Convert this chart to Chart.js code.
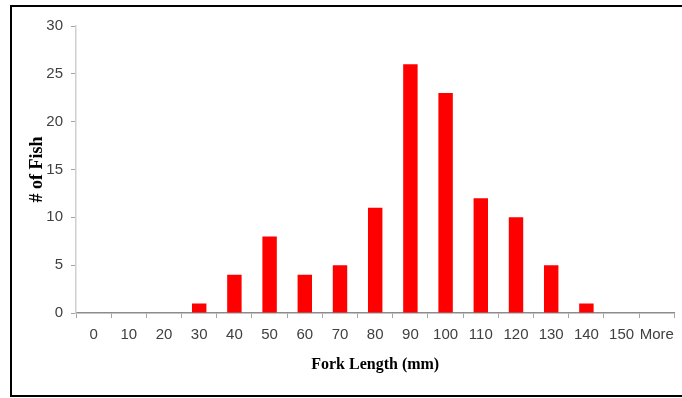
<!DOCTYPE html>
<html>
<head>
<meta charset="utf-8">
<script src="https://cdn.jsdelivr.net/npm/chart.js@4/dist/chart.umd.min.js"></script>
<style>
  html, body { margin: 0; padding: 0; background: #fff; overflow: hidden; }
  #wrap { position: relative; width: 682px; height: 398px; }
  #frame { position: absolute; left: 10px; top: 5px; width: 720px; height: 388px; border: 2px solid #000; box-sizing: content-box; }
  canvas { position: absolute; left: 0; top: 0; }
</style>
</head>
<body>
<div id="wrap">
  <div id="frame"></div>
  <canvas id="c" width="682" height="398"></canvas>
</div>
<script>
const categories = ["0","10","20","30","40","50","60","70","80","90","100","110","120","130","140","150","More"];
const fishCounts = [0,0,0,1,4,8,4,5,11,26,23,12,10,5,1,0,0];
const yTicks = [0,5,10,15,20,25,30];
const xTitle = "Fork Length (mm)";
const yTitle = "# of Fish";

const tickFont = { family: "'Liberation Sans Narrow', 'Arial Narrow', sans-serif", size: 15 };

new Chart(document.getElementById('c'), {
  type: 'bar',
  data: {
    labels: categories,
    datasets: [{
      data: fishCounts,
      backgroundColor: '#ff0000',
      borderWidth: 0,
      barPercentage: 0.41,
      categoryPercentage: 1.0
    }]
  },
  options: {
    responsive: false,
    animation: false,
    devicePixelRatio: 1,
    layout: { padding: { left: 27, top: 26, right: 4, bottom: 24 } },
    plugins: { legend: { display: false }, tooltip: { enabled: false } },
    scales: {
      x: {
        afterFit: s => { s.height = 61; },
        grid: { display: true, drawOnChartArea: false, drawTicks: true, tickLength: 5, color: '#a6a6a6', offset: true },
        border: { display: true, color: '#8c8c8c', width: 1.5 },
        ticks: { font: tickFont, color: '#404040', padding: 8, maxRotation: 0, autoSkip: false },
        title: { display: true, text: xTitle, color: '#000', padding: 0,
                 font: { family: "'Liberation Serif', 'Times New Roman', serif", size: 16, weight: 'bold' } }
      },
      y: {
        min: 0, max: 30,
        afterFit: s => { s.width = 49; },
        afterBuildTicks: s => { s.ticks = yTicks.map(v => ({ value: v })); },
        grid: { display: true, drawOnChartArea: false, drawTicks: true, tickLength: 5, color: '#a6a6a6' },
        border: { display: true, color: '#d0d0d0', width: 1.5 },
        ticks: { font: tickFont, color: '#404040', padding: 8 },
        title: { display: true, text: yTitle, color: '#000', padding: 0,
                 font: { family: "'Liberation Serif', 'Times New Roman', serif", size: 18, weight: 'bold' } }
      }
    }
  }
});
</script>
</body>
</html>
